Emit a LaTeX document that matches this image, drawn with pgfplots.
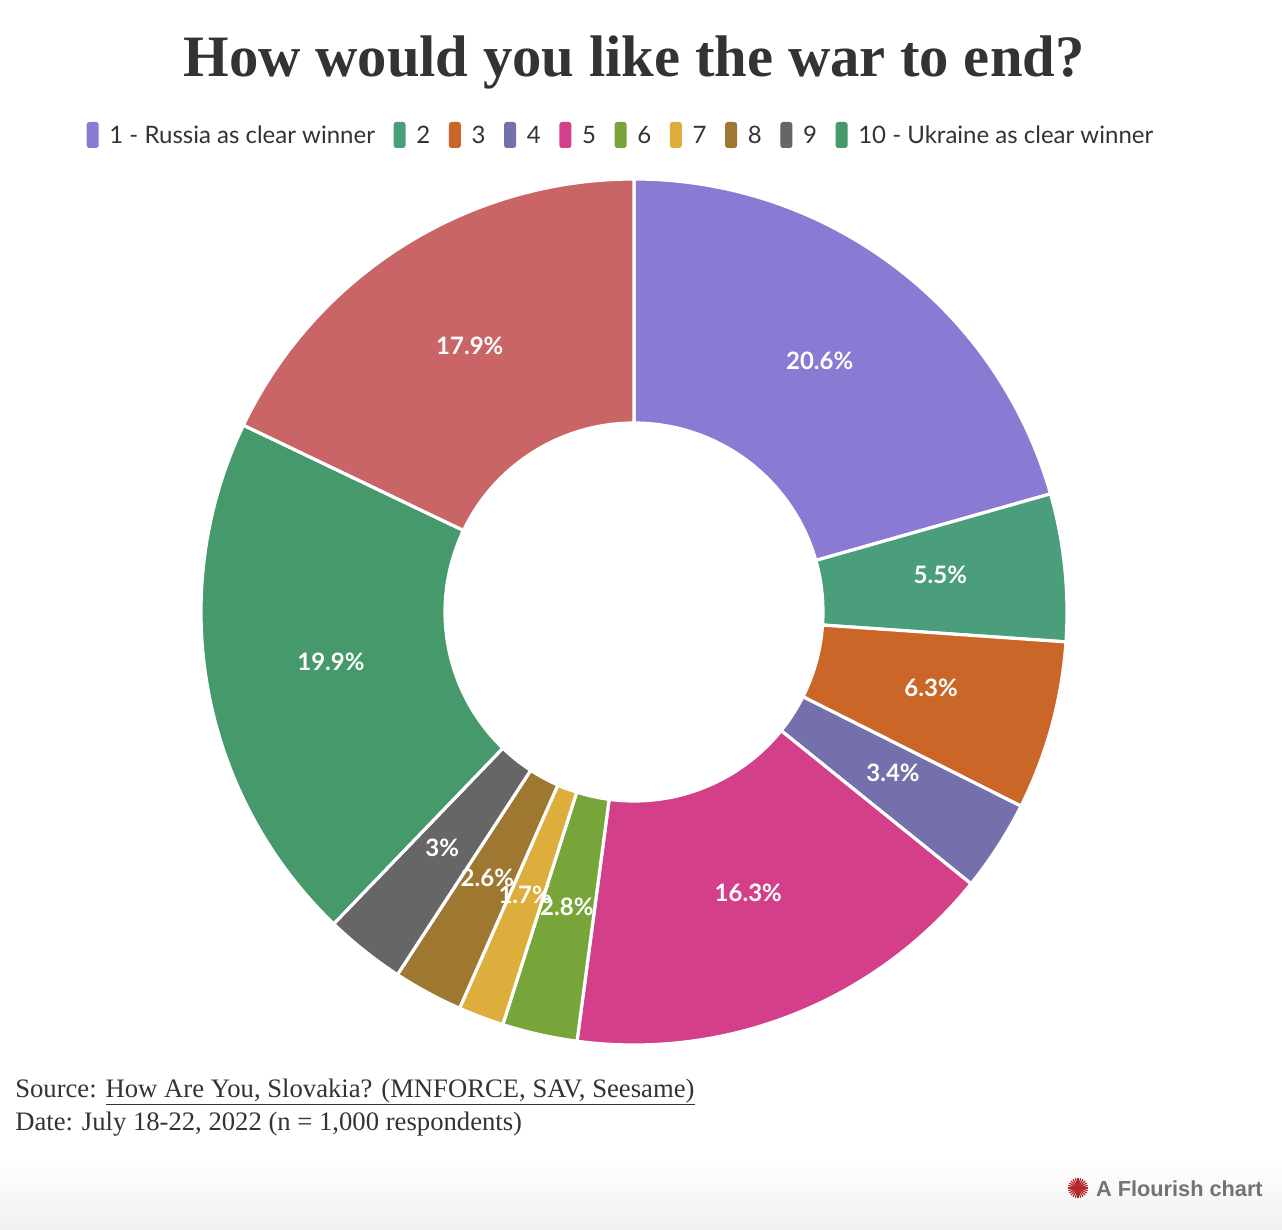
\documentclass[border=0pt]{standalone}
\usepackage{fontspec}
\setmainfont{Liberation Serif}
\newfontfamily\lato{Lato}
\newfontfamily\arial{Liberation Sans}
\usepackage{pgfplots}
\usepackage{pgfplotstable}
\pgfplotsset{compat=1.18}
\definecolor{c1}{HTML}{8A7AD4}
\definecolor{c2}{HTML}{4B9E7C}
\definecolor{c3}{HTML}{C96628}
\definecolor{c4}{HTML}{7470AB}
\definecolor{c5}{HTML}{D43F8A}
\definecolor{c6}{HTML}{77A53A}
\definecolor{c7}{HTML}{DDAE3C}
\definecolor{c8}{HTML}{9E7731}
\definecolor{c9}{HTML}{666666}
\definecolor{c10}{HTML}{45996A}
\definecolor{c11}{HTML}{C96567}
\definecolor{txt}{HTML}{333333}
\definecolor{flred}{HTML}{B5272D}
\tikzset{lab/.style={font=\lato\bfseries\fontsize{18}{18}\selectfont, text=white, yshift=4pt}}
\pgfplotstableread{
name value col
1 20.6 c1
2 5.5 c2
3 6.3 c3
4 3.4 c4
5 16.3 c5
6 2.8 c6
7 1.7 c7
8 2.6 c8
9 3 c9
10 19.9 c10
11 17.9 c11
}\slices
\newcommand{\sw}[1]{\tikz[baseline={(0,3pt)}]\fill[#1,rounded corners=2pt] (0,0) rectangle (9pt,19.5pt);}
\begin{document}
\begin{tikzpicture}
\path[use as bounding box] (0,0) rectangle (961.5pt,-922.5pt);
\shade[top color=white, bottom color=black!6] (0,-1160*0.75pt) rectangle (961.5pt,-922.5pt);
\begin{axis}[at={(634*0.75pt,-612*0.75pt)}, anchor=origin,
  x=0.75pt, y=0.75pt, xmin=-440, xmax=440, ymin=-440, ymax=440,
  hide axis, clip=false]
\def\cum{0}
\pgfplotsforeachungrouped \i in {0,...,10}{%
  \pgfplotstablegetelem{\i}{value}\of\slices \let\sv\pgfplotsretval
  \pgfplotstablegetelem{\i}{col}\of\slices \let\scol\pgfplotsretval
  \pgfmathsetmacro\sa{90-3.6*\cum}%
  \pgfmathsetmacro\sb{90-3.6*(\cum+\sv)}%
  \edef\temp{\noexpand\filldraw[fill=\scol, draw=white, line width=2.4pt, line join=miter]
    (axis cs:{189*cos(\sa)},{189*sin(\sa)}) -- (axis cs:{433*cos(\sa)},{433*sin(\sa)})
    arc[start angle=\sa, end angle=\sb, radius=324.75pt]
    -- (axis cs:{189*cos(\sb)},{189*sin(\sb)})
    arc[start angle=\sb, end angle=\sa, radius=141.75pt] -- cycle;}%
  \temp
  \pgfmathsetmacro\cum{\cum+\sv}%
}
\def\cum{0}
\pgfplotsforeachungrouped \i in {0,...,10}{%
  \pgfplotstablegetelem{\i}{value}\of\slices \let\sv\pgfplotsretval
  \pgfmathsetmacro\smid{90-3.6*(\cum+\sv/2)}%
  \edef\temp{\noexpand\node[lab] at (axis cs:{308*cos(\smid)},{308*sin(\smid)}) {\sv\noexpand\%};}%
  \temp
  \pgfmathsetmacro\cum{\cum+\sv}%
}
\end{axis}
\node[font=\bfseries\fontsize{44}{44}\selectfont, text=txt] at (634*0.75pt,-62*0.75pt) {How would you like the war to end?};
\node[font=\lato\fontsize{18}{18}\selectfont, text=txt, inner sep=0pt] at (620*0.75pt,-135*0.75pt)
 {\sw{c1}\hspace{8pt}1 - Russia as clear winner\hspace{14pt}\sw{c2}\hspace{8pt}2\hspace{14pt}\sw{c3}\hspace{8pt}3\hspace{14pt}\sw{c4}\hspace{8pt}4\hspace{14pt}\sw{c5}\hspace{8pt}5\hspace{14pt}\sw{c6}\hspace{8pt}6\hspace{14pt}\sw{c7}\hspace{8pt}7\hspace{14pt}\sw{c8}\hspace{8pt}8\hspace{14pt}\sw{c9}\hspace{8pt}9\hspace{14pt}\sw{c10}\hspace{8pt}10 - Ukraine as clear winner};
\node[font=\fontsize{20}{20}\selectfont, text=txt, anchor=base west, inner sep=0pt] at (15*0.75pt,-1097*0.75pt) {Source: \underline{How Are You, Slovakia? (MNFORCE, SAV, Seesame)}};
\node[font=\fontsize{20}{20}\selectfont, text=txt, anchor=base west, inner sep=0pt] at (15*0.75pt,-1130*0.75pt) {Date: July 18-22, 2022 (n = 1,000 respondents)};
\node[font=\arial\bfseries\fontsize{16.3}{16.3}\selectfont, text=black!55, anchor=base east, inner sep=0pt] at (1263*0.75pt,-1196*0.75pt) {A Flourish chart};
\foreach \k in {0,15,...,345} \draw[flred, line width=0.9pt] (1078*0.75pt,-1188*0.75pt) -- ++(\k:7.5pt);
\end{tikzpicture}
\end{document}
